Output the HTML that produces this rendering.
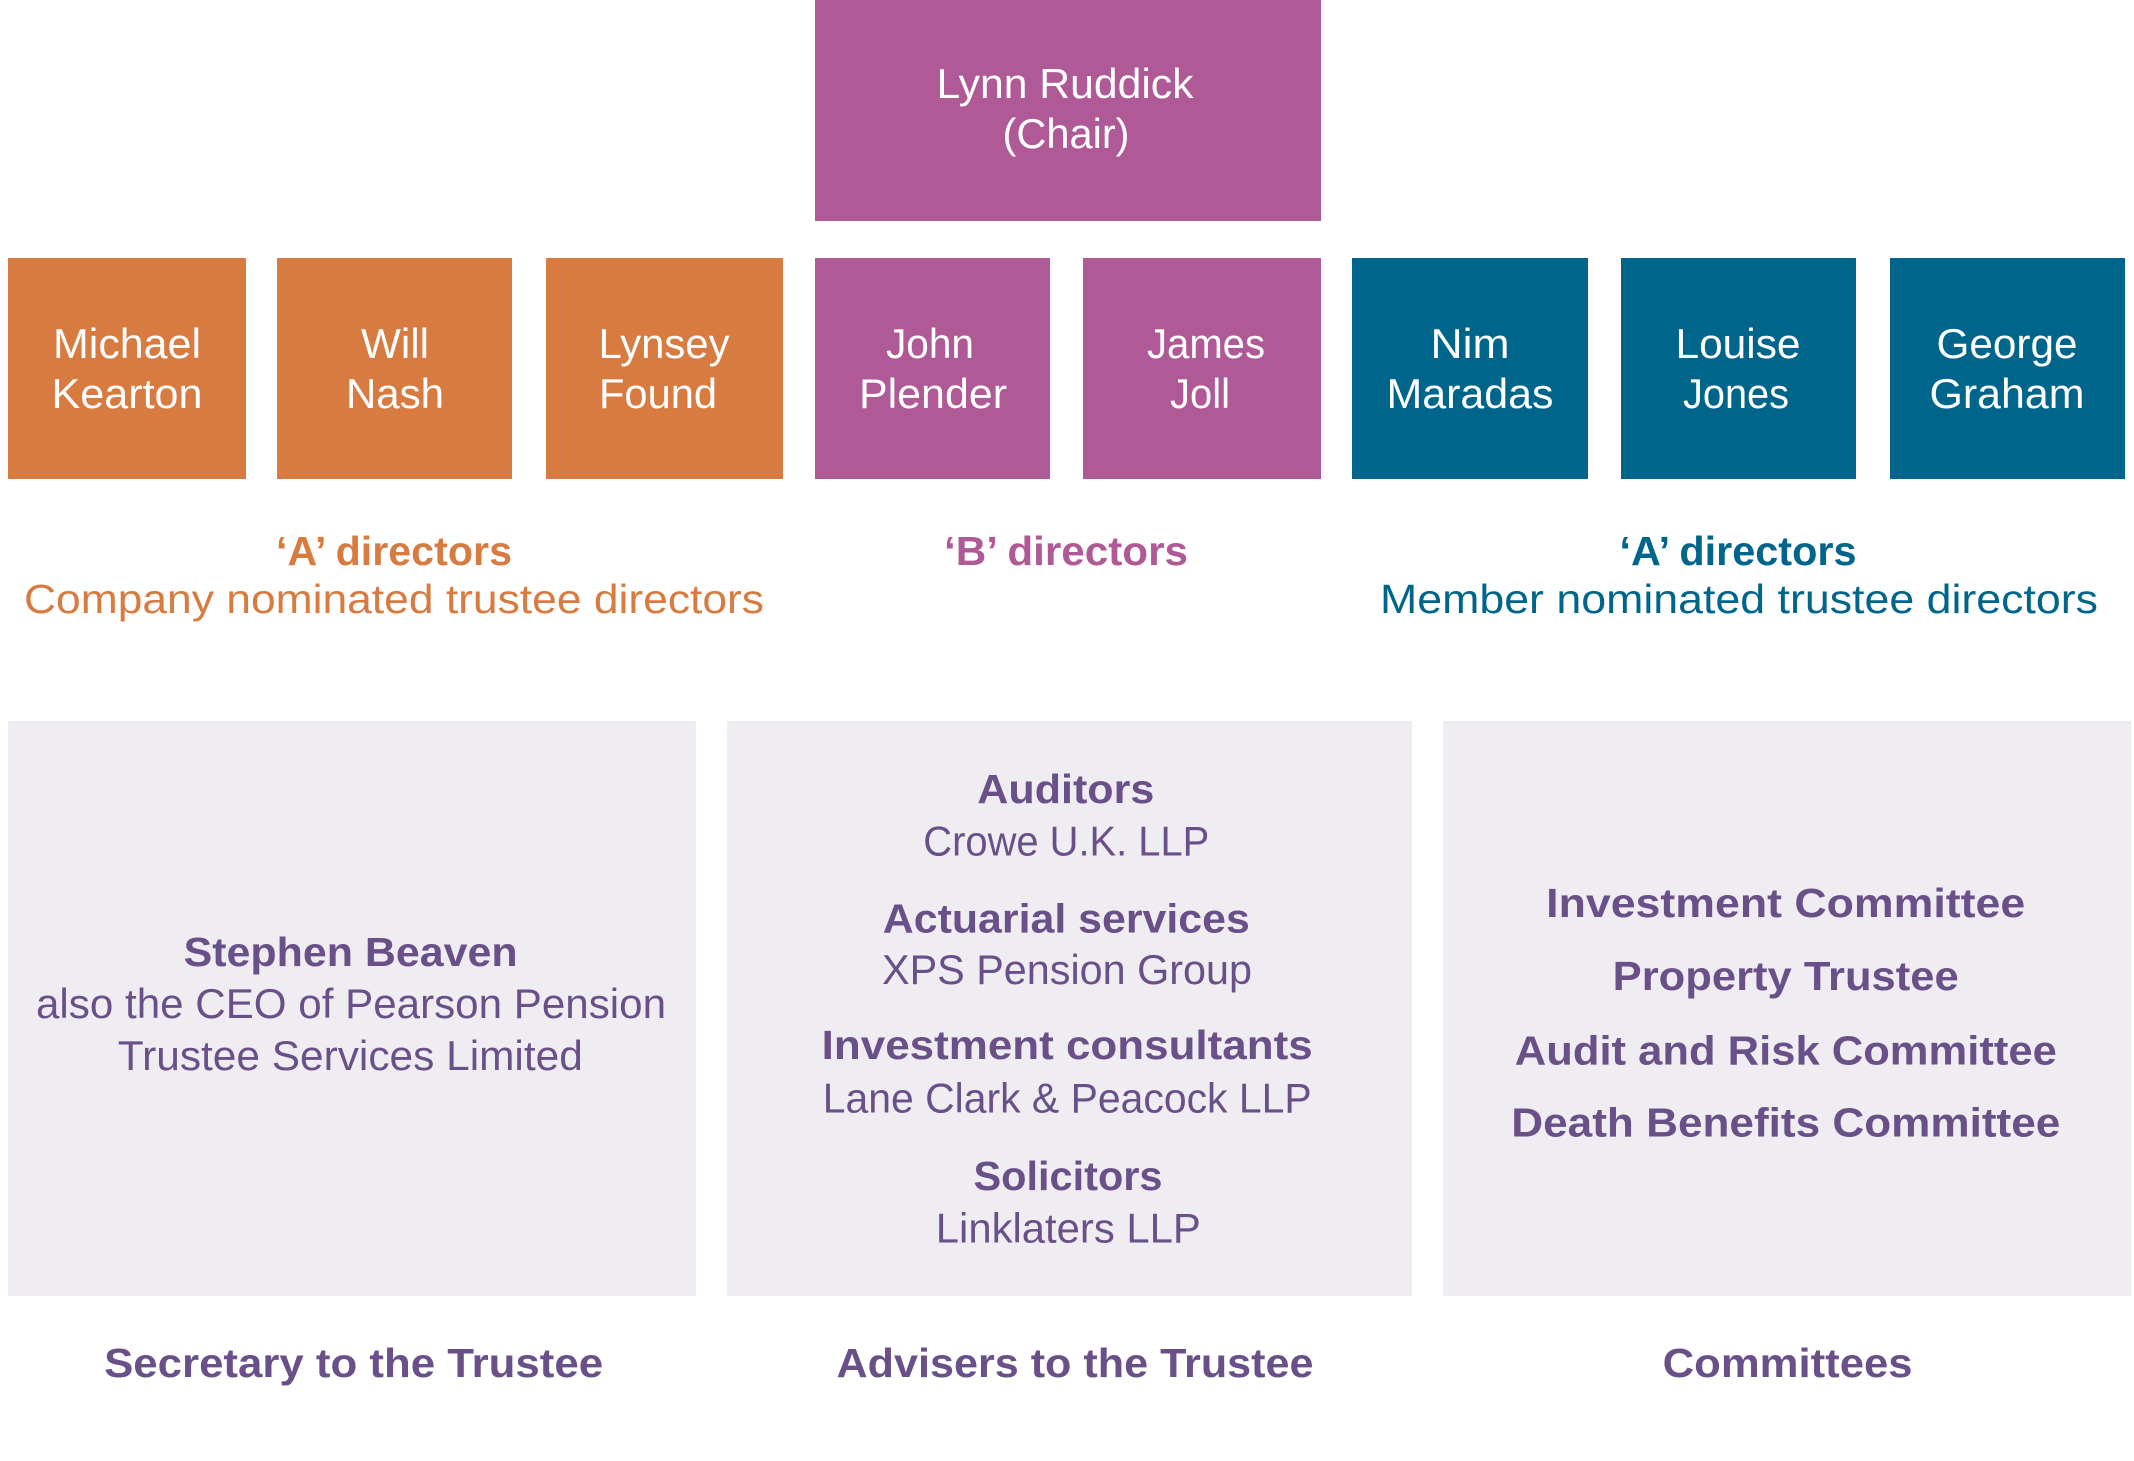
<!DOCTYPE html>
<html>
<head>
<meta charset="utf-8">
<style>
  html, body { margin: 0; padding: 0; background: #ffffff; }
  body { width: 2134px; height: 1461px; overflow: hidden; }
  svg { display: block; }
  text { font-family: "Liberation Sans", Arial, sans-serif; }
  .w { fill: #ffffff; font-size: 42px; }
  .b { font-weight: bold; }
  .p { fill: #6A5089; }
</style>
</head>
<body>
<svg width="2134" height="1461" viewBox="0 0 2134 1461" xmlns="http://www.w3.org/2000/svg">
  <!-- Chair -->
  <rect x="815" y="0" width="506" height="221" fill="#AF5A96"/>
  <text class="w" x="1065" y="98" text-anchor="middle" textLength="257" lengthAdjust="spacingAndGlyphs">Lynn Ruddick</text>
  <text class="w" x="1066" y="148" text-anchor="middle" textLength="127" lengthAdjust="spacingAndGlyphs">(Chair)</text>

  <!-- Director boxes -->
  <rect x="8" y="258" width="238" height="221" fill="#D87B41"/>
  <rect x="277" y="258" width="235" height="221" fill="#D87B41"/>
  <rect x="546" y="258" width="237" height="221" fill="#D87B41"/>
  <rect x="815" y="258" width="235" height="221" fill="#AF5A96"/>
  <rect x="1083" y="258" width="238" height="221" fill="#AF5A96"/>
  <rect x="1352" y="258" width="236" height="221" fill="#00658A"/>
  <rect x="1621" y="258" width="235" height="221" fill="#00658A"/>
  <rect x="1890" y="258" width="235" height="221" fill="#00658A"/>

  <text class="w" x="127" y="358" text-anchor="middle" textLength="148" lengthAdjust="spacingAndGlyphs">Michael</text>
  <text class="w" x="127" y="408" text-anchor="middle" textLength="151" lengthAdjust="spacingAndGlyphs">Kearton</text>

  <text class="w" x="395" y="358" text-anchor="middle" textLength="68" lengthAdjust="spacingAndGlyphs">Will</text>
  <text class="w" x="395" y="408" text-anchor="middle" textLength="98" lengthAdjust="spacingAndGlyphs">Nash</text>

  <text class="w" x="664" y="358" text-anchor="middle" textLength="131" lengthAdjust="spacingAndGlyphs">Lynsey</text>
  <text class="w" x="658" y="408" text-anchor="middle" textLength="118" lengthAdjust="spacingAndGlyphs">Found</text>

  <text class="w" x="930" y="358" text-anchor="middle" textLength="88" lengthAdjust="spacingAndGlyphs">John</text>
  <text class="w" x="933" y="408" text-anchor="middle" textLength="148" lengthAdjust="spacingAndGlyphs">Plender</text>

  <text class="w" x="1206" y="358" text-anchor="middle" textLength="118" lengthAdjust="spacingAndGlyphs">James</text>
  <text class="w" x="1200" y="408" text-anchor="middle" textLength="60" lengthAdjust="spacingAndGlyphs">Joll</text>

  <text class="w" x="1470" y="358" text-anchor="middle" textLength="79" lengthAdjust="spacingAndGlyphs">Nim</text>
  <text class="w" x="1470" y="408" text-anchor="middle" textLength="167" lengthAdjust="spacingAndGlyphs">Maradas</text>

  <text class="w" x="1738" y="358" text-anchor="middle" textLength="125" lengthAdjust="spacingAndGlyphs">Louise</text>
  <text class="w" x="1736" y="408" text-anchor="middle" textLength="106" lengthAdjust="spacingAndGlyphs">Jones</text>

  <text class="w" x="2007" y="358" text-anchor="middle" textLength="141" lengthAdjust="spacingAndGlyphs">George</text>
  <text class="w" x="2007" y="408" text-anchor="middle" textLength="155" lengthAdjust="spacingAndGlyphs">Graham</text>

  <!-- Group labels -->
  <text class="b" x="394" y="565" fill="#D87B41" font-size="41" text-anchor="middle" textLength="236" lengthAdjust="spacingAndGlyphs">‘A’ directors</text>
  <text x="394" y="613" fill="#D87B41" font-size="41" text-anchor="middle" textLength="740" lengthAdjust="spacingAndGlyphs">Company nominated trustee directors</text>

  <text class="b" x="1066" y="565" fill="#AF5A96" font-size="41" text-anchor="middle" textLength="244" lengthAdjust="spacingAndGlyphs">‘B’ directors</text>

  <text class="b" x="1738" y="565" fill="#00658A" font-size="41" text-anchor="middle" textLength="237" lengthAdjust="spacingAndGlyphs">‘A’ directors</text>
  <text x="1739" y="613" fill="#00658A" font-size="41" text-anchor="middle" textLength="718" lengthAdjust="spacingAndGlyphs">Member nominated trustee directors</text>

  <!-- Bottom panels -->
  <rect x="8" y="721" width="688" height="575" fill="#EFEDF2"/>
  <rect x="727" y="721" width="685" height="575" fill="#EFEDF2"/>
  <rect x="1443" y="721" width="688" height="575" fill="#EFEDF2"/>

  <!-- Secretary panel -->
  <text class="p b" x="350.6" y="966" font-size="41" text-anchor="middle" textLength="334" lengthAdjust="spacingAndGlyphs">Stephen Beaven</text>
  <text class="p" x="351" y="1018" font-size="42" text-anchor="middle" textLength="630" lengthAdjust="spacingAndGlyphs">also the CEO of Pearson Pension</text>
  <text class="p" x="350.3" y="1070" font-size="42" text-anchor="middle" textLength="465" lengthAdjust="spacingAndGlyphs">Trustee Services Limited</text>

  <!-- Advisers panel -->
  <text class="p b" x="1065.8" y="803" font-size="41" text-anchor="middle" textLength="177" lengthAdjust="spacingAndGlyphs">Auditors</text>
  <text class="p" x="1066.3" y="855.5" font-size="42" text-anchor="middle" textLength="286" lengthAdjust="spacingAndGlyphs">Crowe U.K. LLP</text>
  <text class="p b" x="1066.3" y="932.7" font-size="41" text-anchor="middle" textLength="367" lengthAdjust="spacingAndGlyphs">Actuarial services</text>
  <text class="p" x="1067" y="984" font-size="42" text-anchor="middle" textLength="370" lengthAdjust="spacingAndGlyphs">XPS Pension Group</text>
  <text class="p b" x="1067.2" y="1059" font-size="41" text-anchor="middle" textLength="491" lengthAdjust="spacingAndGlyphs">Investment consultants</text>
  <text class="p" x="1067.2" y="1112.3" font-size="42" text-anchor="middle" textLength="489" lengthAdjust="spacingAndGlyphs">Lane Clark &amp; Peacock LLP</text>
  <text class="p b" x="1068" y="1190" font-size="41" text-anchor="middle" textLength="189" lengthAdjust="spacingAndGlyphs">Solicitors</text>
  <text class="p" x="1068.3" y="1242.3" font-size="42" text-anchor="middle" textLength="265" lengthAdjust="spacingAndGlyphs">Linklaters LLP</text>

  <!-- Committees panel -->
  <text class="p b" x="1785.7" y="917" font-size="41" text-anchor="middle" textLength="479" lengthAdjust="spacingAndGlyphs">Investment Committee</text>
  <text class="p b" x="1785.7" y="990" font-size="41" text-anchor="middle" textLength="346" lengthAdjust="spacingAndGlyphs">Property Trustee</text>
  <text class="p b" x="1785.8" y="1064.5" font-size="41" text-anchor="middle" textLength="542" lengthAdjust="spacingAndGlyphs">Audit and Risk Committee</text>
  <text class="p b" x="1785.8" y="1136.7" font-size="41" text-anchor="middle" textLength="549" lengthAdjust="spacingAndGlyphs">Death Benefits Committee</text>

  <!-- Bottom captions -->
  <text class="p b" x="353.6" y="1377" font-size="41" text-anchor="middle" textLength="499" lengthAdjust="spacingAndGlyphs">Secretary to the Trustee</text>
  <text class="p b" x="1075" y="1377" font-size="41" text-anchor="middle" textLength="477" lengthAdjust="spacingAndGlyphs">Advisers to the Trustee</text>
  <text class="p b" x="1787.6" y="1377" font-size="41" text-anchor="middle" textLength="250" lengthAdjust="spacingAndGlyphs">Committees</text>
</svg>
</body>
</html>
